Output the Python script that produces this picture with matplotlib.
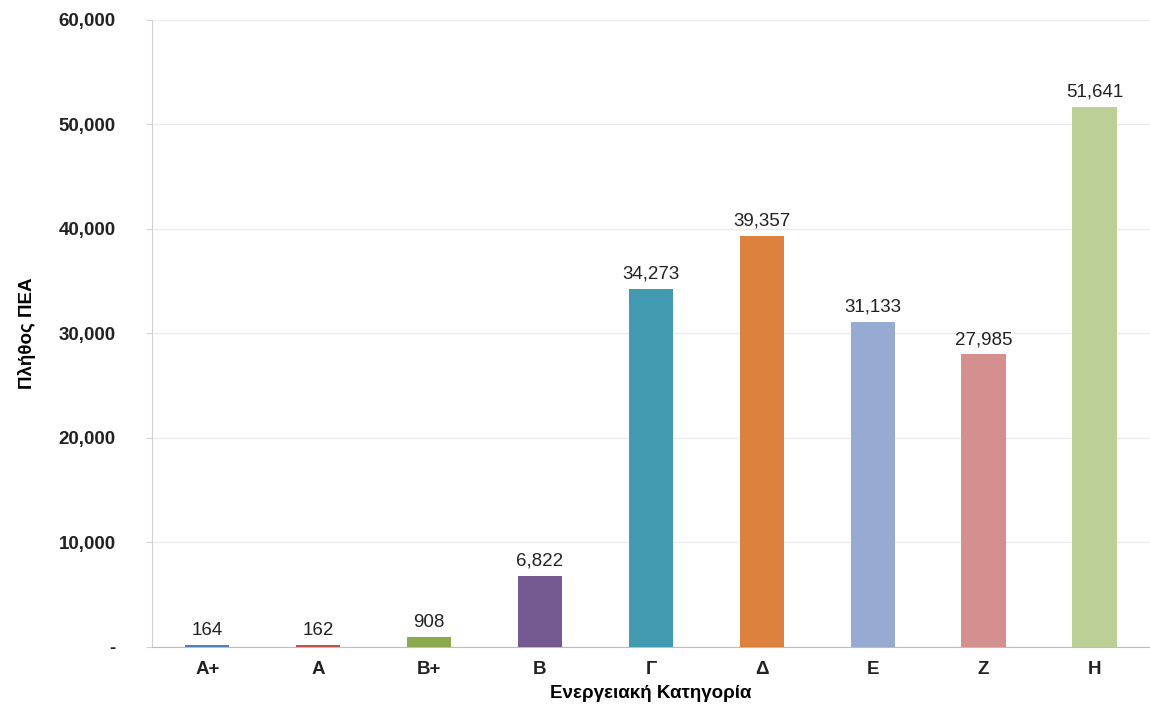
import matplotlib.pyplot as plt
from matplotlib.ticker import FuncFormatter

categories = ["A+", "A", "B+", "B", "Γ", "Δ", "Ε", "Ζ", "Η"]
counts = [164, 162, 908, 6822, 34273, 39357, 31133, 27985, 51641]
colors = ["#4F81BD", "#C0504D", "#8BA94E", "#745A90", "#429AB0",
          "#DC823E", "#96AAD2", "#D48F8F", "#BBCF96"]

plt.rcParams['font.family'] = ['Liberation Sans', 'DejaVu Sans']

fig = plt.figure(figsize=(11.5, 7.07), dpi=100)
ax = fig.add_axes([0.132, 0.085, 0.868, 0.887])

x = range(len(categories))
bars = ax.bar(x, counts, width=0.4, color=colors, zorder=3)

for xi, v in zip(x, counts):
    ax.text(xi, v + 600, f"{v:,}", ha="center", va="bottom",
            fontsize=13.5, color="#222222")

ax.set_xlim(-0.5, len(categories) - 0.5)
ax.set_ylim(0, 60000)
ax.set_yticks(range(0, 60001, 10000))
ax.yaxis.set_major_formatter(FuncFormatter(lambda v, p: "-" if v == 0 else f"{int(v):,}"))
ax.set_xticks(list(x))
ax.set_xticklabels(categories)

for lab in ax.get_xticklabels() + ax.get_yticklabels():
    lab.set_fontweight("bold")
    lab.set_fontsize(13.5)
    lab.set_color("#222222")

ax.grid(axis="y", color="#ebebeb", linewidth=1, zorder=0)
ax.spines["top"].set_visible(False)
ax.spines["right"].set_visible(False)
ax.spines["left"].set_color("#d0d0d0")
ax.spines["bottom"].set_color("#bdbdbd")
ax.tick_params(axis="y", length=4, color="#d0d0d0", pad=22)
ax.tick_params(axis="x", length=0, pad=10)

ax.set_xlabel("Ενεργειακή Κατηγορία", fontsize=13.5, fontweight="bold", labelpad=5)
ax.set_ylabel("Πλήθος ΠΕΑ", fontsize=13.5, fontweight="bold", labelpad=16)

fig.savefig("out.png", dpi=100)
